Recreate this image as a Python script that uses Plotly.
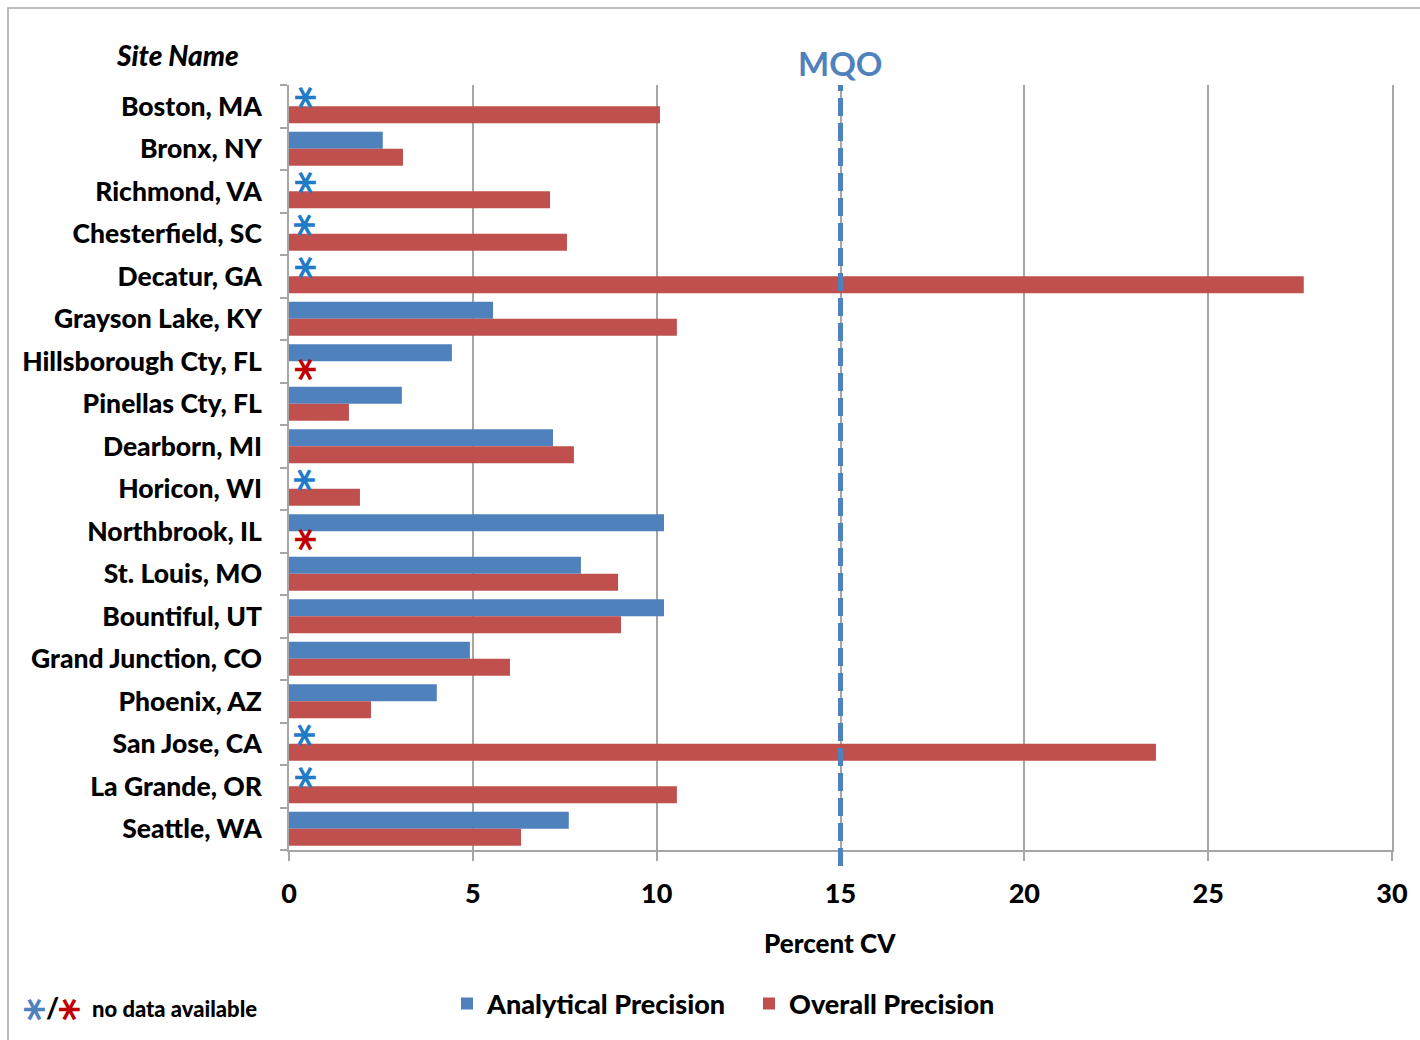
import plotly.graph_objects as go

# Precision results per monitoring site (percent coefficient of variation)
sites = [
    "Boston, MA", "Bronx, NY", "Richmond, VA", "Chesterfield, SC", "Decatur, GA",
    "Grayson Lake, KY", "Hillsborough Cty, FL", "Pinellas Cty, FL", "Dearborn, MI",
    "Horicon, WI", "Northbrook, IL", "St. Louis, MO", "Bountiful, UT",
    "Grand Junction, CO", "Phoenix, AZ", "San Jose, CA", "La Grande, OR", "Seattle, WA",
]
analytical = [None, 2.55, None, None, None, 5.55, 4.43, 3.07, 7.18,
              None, 10.2, 7.94, 10.2, 4.92, 4.02, None, None, 7.61]
overall = [10.09, 3.1, 7.1, 7.56, 27.6, 10.55, None, 1.63, 7.75,
           1.93, None, 8.95, 9.03, 6.01, 2.23, 23.58, 10.55, 6.31]
mqo = 15
x_ticks = [0, 5, 10, 15, 20, 25, 30]

BLUE = "#4F81BD"
RED = "#C0504D"
STAR_BLUE = "#1F7BC8"
STAR_RED = "#C00000"
GRID = "#A6A6A6"
FONT = "Lato"
STAR_FONT = dict(family="DejaVu Sans", weight="bold")

pos = list(range(len(sites)))

fig = go.Figure()
fig.add_trace(go.Bar(
    y=pos, x=analytical, orientation="h", name="Analytical Precision",
    marker=dict(color=BLUE, line=dict(width=0)),
))
fig.add_trace(go.Bar(
    y=pos, x=overall, orientation="h", name="Overall Precision",
    marker=dict(color=RED, line=dict(width=0)),
))

L, R, T, B = 289, 28, 85, 190
W, H = 1420, 1040
pw, ph = W - L - R, H - T - B


def px_x(px):
    return (px - L) / pw


def px_y(py):
    return (H - B - py) / ph


def star(x, y, color, xref="x", yref="y", size=44, xshift=-7, yshift=0):
    # rotated so the asterisk shows a horizontal arm
    return dict(text="*", x=x, y=y, xref=xref, yref=yref, showarrow=False,
                xanchor="center", yanchor="middle", textangle=90,
                xshift=xshift, yshift=yshift,
                font=dict(STAR_FONT, size=size, color=color))


# Asterisks flag sites with no value for a series
star_x = 0.43
annotations = []
for i, v in enumerate(analytical):
    if v is None:
        annotations.append(star(star_x, i - 0.2, STAR_BLUE))
for i, v in enumerate(overall):
    if v is None:
        annotations.append(star(star_x, i + 0.2, STAR_RED))

annotations += [
    dict(text="Site Name", xref="paper", yref="paper", x=px_x(177), y=px_y(55),
         showarrow=False, xanchor="center", yanchor="middle",
         font=dict(family=FONT, size=28, weight=900, style="italic")),
    dict(text="MQO", xref="x", yref="paper", x=mqo, y=px_y(63),
         showarrow=False, xanchor="center", yanchor="middle",
         font=dict(family=FONT, size=33, weight="bold", color=BLUE)),
    dict(text="Percent CV", xref="paper", yref="paper", x=px_x(830), y=px_y(943),
         showarrow=False, xanchor="center", yanchor="middle",
         font=dict(family=FONT, size=26, weight=900)),
    star(px_x(35), px_y(1009), BLUE, xref="paper", yref="paper", size=44),
    dict(text="/", xref="paper", yref="paper", x=px_x(52), y=px_y(1007),
         showarrow=False, xanchor="center", yanchor="middle",
         font=dict(family=FONT, size=28, weight=900)),
    star(px_x(70), px_y(1009), STAR_RED, xref="paper", yref="paper", size=44),
    dict(text="no data available", xref="paper", yref="paper", x=px_x(90), y=px_y(1008),
         showarrow=False, xanchor="left", yanchor="middle",
         font=dict(family=FONT, size=22, weight=900)),
]

fig.update_layout(
    width=W, height=H,
    margin=dict(l=L, r=R, t=T, b=B, pad=0),
    paper_bgcolor="white", plot_bgcolor="white",
    barmode="group", bargap=0.2, bargroupgap=0,
    font=dict(family=FONT, color="black"),
    showlegend=True,
    legend=dict(
        orientation="h", x=px_x(447), y=px_y(1004), xanchor="left", yanchor="middle",
        font=dict(family=FONT, size=27, weight=900), bgcolor="rgba(0,0,0,0)",
        entrywidth=257, entrywidthmode="pixels", traceorder="normal",
    ),
    xaxis=dict(
        range=[0, 30], tickvals=x_ticks, showgrid=True, gridcolor=GRID, gridwidth=1.5,
        zeroline=False, showline=True, linecolor=GRID, linewidth=1.5,
        ticks="outside", ticklen=9, tickcolor=GRID, tickwidth=1.5,
        tickfont=dict(family=FONT, size=27, weight=900), ticklabelstandoff=10,
    ),
    yaxis=dict(
        range=[len(sites) - 0.5, -0.5], tickvals=pos, ticktext=sites,
        showgrid=False, zeroline=False, showline=True, linecolor=GRID, linewidth=1.5,
        mirror=True, ticks="", tickfont=dict(family=FONT, size=26.5, weight=900),
        ticklabelstandoff=20,
        minor=dict(tick0=-0.5, dtick=1, ticks="outside", ticklen=7, tickcolor=GRID,
                   tickwidth=1.5, showgrid=False),
    ),
    shapes=[
        dict(type="line", xref="x", yref="paper", x0=mqo, x1=mqo, y0=px_y(866), y1=1,
             line=dict(color=BLUE, width=5, dash="18px,7px"), layer="above"),
        dict(type="rect", xref="paper", yref="paper", x0=px_x(8), x1=px_x(1440),
             y0=px_y(1060), y1=px_y(8), line=dict(color=GRID, width=1.5), layer="below"),
    ],
    annotations=annotations,
)

fig.write_html("out.html")
